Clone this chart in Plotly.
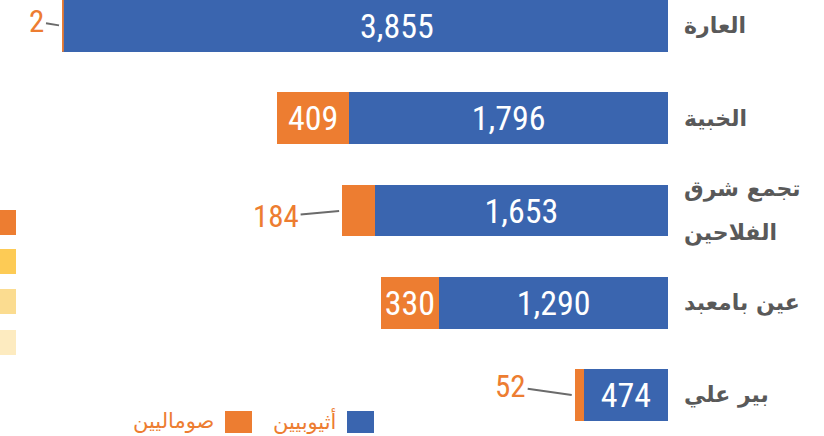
import plotly.graph_objects as go

categories = ["العارة", "الخبية", "تجمع شرق\nالفلاحين", "عين بامعبد", "بير علي"]
ethiopians = [3855, 1796, 1653, 1290, 474]
somalis = [2, 409, 184, 330, 52]
series_names = ["أثيوبيين", "صوماليين"]

BLUE = "#3A65AF"
ORANGE = "#ED7D31"
GREY_TXT = "#595959"
NUM_FONT = "Liberation Sans Narrow, Roboto Condensed, Arial Narrow, sans-serif"
AR_FONT = "DejaVu Sans, sans-serif"

W, H = 824, 436
X_LEFT_PX, X_RIGHT_PX = 62, 668
PX_PER_UNIT = 0.1774
XMAX = (X_RIGHT_PX - X_LEFT_PX) / PX_PER_UNIT
BAR_W = 0.56
Y_RANGE = [4.44, -0.28]
INSIDE_MIN = 250

ids = list(range(len(categories)))

eth_text = [f"{v:,}" if (v >= INSIDE_MIN and v <= XMAX) else "" for v in ethiopians]
som_text = [f"{v:,}" if v >= INSIDE_MIN else "" for v in somalis]

fig = go.Figure()
fig.add_trace(go.Bar(
    y=ids, x=ethiopians, orientation="h", name=series_names[0],
    marker=dict(color=BLUE, line=dict(width=0)), width=BAR_W,
    text=eth_text, textposition="inside", insidetextanchor="middle",
    textfont=dict(color="white", size=34, family=NUM_FONT),
    hoverinfo="skip",
))
fig.add_trace(go.Bar(
    y=ids, x=somalis, orientation="h", name=series_names[1],
    marker=dict(color=ORANGE, line=dict(width=0)), width=BAR_W,
    text=som_text, textposition="inside", insidetextanchor="middle",
    textfont=dict(color="white", size=34, family=NUM_FONT),
    hoverinfo="skip",
))

# clipped (very long) bars: label near the centre of the visible part
for i, e in enumerate(ethiopians):
    if e > XMAX:
        fig.add_annotation(
            x=XMAX / 2, y=i, xref="x", yref="y", text=f"{e:,}", showarrow=False,
            xshift=32, font=dict(color="white", size=34, family=NUM_FONT),
        )
        fig.add_shape(type="rect", xref="x domain", yref="y",
                      x0=0, x1=0.003, y0=i - BAR_W / 2, y1=i + BAR_W / 2,
                      fillcolor=ORANGE, line=dict(width=0))

# outside labels with connectors for small segments
offsets = {0: (-25, -4), 2: (-66, 6), 4: (-64, -9)}
for i, (e, s) in enumerate(zip(ethiopians, somalis)):
    if s < INSIDE_MIN:
        xe = min(e + s, XMAX)
        ax, ay = offsets.get(i, (-50, 0))
        fig.add_annotation(
            x=xe, y=i, xref="x", yref="y", text=f"{s:,}",
            showarrow=True, arrowhead=0, arrowwidth=2, arrowcolor="#6b6b6b",
            ax=ax, ay=ay, standoff=3,
            font=dict(color=ORANGE, size=31, family=NUM_FONT),
        )

# category labels at right
for i, lab in enumerate(categories):
    lines = lab.split("\n")
    n = len(lines)
    for k, ln in enumerate(lines):
        fig.add_annotation(
            x=(X_RIGHT_PX + 14) / W, y=i, xref="paper", yref="y",
            text=f"<b>{ln}</b>", showarrow=False, xanchor="left", yanchor="middle",
            yshift=(-(k - (n - 1) / 2) * 44),
            font=dict(color=GREY_TXT, size=22, family=AR_FONT),
        )

# custom legend (RTL: square at right of text)
leg = [(series_names[0], BLUE, 347), (series_names[1], ORANGE, 225)]
for name, col, x0 in leg:
    fig.add_shape(type="rect", xref="paper", yref="paper",
                  x0=x0 / W, x1=(x0 + 27) / W, y0=1 - 433 / H, y1=1 - 411 / H,
                  fillcolor=col, line=dict(width=0))
    fig.add_annotation(x=(x0 - 9) / W, y=1 - 421 / H, xref="paper", yref="paper",
                       text=name, showarrow=False, xanchor="right", yanchor="middle",
                       font=dict(color=ORANGE, size=21, family=AR_FONT))

# partially visible swatches at left edge
sw_cols = ["#ED7D31", "#FDCB55", "#FBDC90", "#FDEBC0"]
sw_tops = [210, 249, 289, 330]
for c, t in zip(sw_cols, sw_tops):
    fig.add_shape(type="rect", xref="paper", yref="paper",
                  x0=0, x1=16 / W, y0=1 - (t + 25) / H, y1=1 - t / H,
                  fillcolor=c, line=dict(width=0))

fig.update_layout(
    width=W, height=H, margin=dict(l=0, r=0, t=0, b=0),
    paper_bgcolor="white", plot_bgcolor="white",
    barmode="stack", showlegend=False,
    xaxis=dict(domain=[X_LEFT_PX / W, X_RIGHT_PX / W], range=[XMAX, 0],
               showgrid=False, zeroline=False, showticklabels=False, showline=False),
    yaxis=dict(range=Y_RANGE, showgrid=False, zeroline=False, showticklabels=False,
               showline=False),
)

fig.write_html("out.html")
